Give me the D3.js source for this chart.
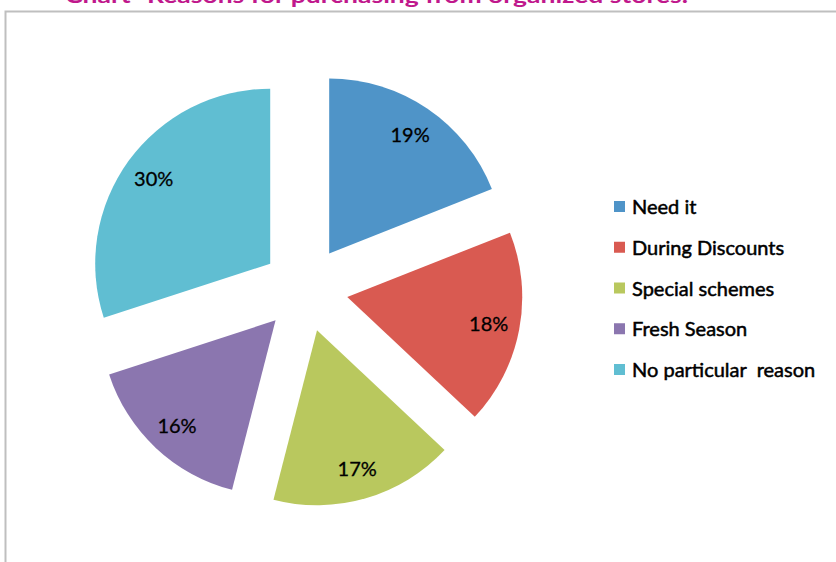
<!DOCTYPE html>
<html>
<head>
<meta charset="utf-8">
<script src="https://cdn.jsdelivr.net/npm/d3@7"></script>
<style>
  html, body { margin: 0; padding: 0; background: #fff; }
  svg { display: block; }
  text { font-family: Lato, "Open Sans", sans-serif; }
</style>
</head>
<body>
<svg id="chart" width="836" height="562"></svg>
<script>
// Survey: reasons for purchasing from organized stores (percent of respondents)
const categories = ["Need it", "During Discounts", "Special schemes", "Fresh Season", "No particular  reason"];
const values = [19, 18, 17, 16, 30];
const colors = ["#4F94C8", "#D95A51", "#B9C85E", "#8B76AF", "#60BED2"];
const title = "Chart- Reasons for purchasing from organized stores.";

const svg = d3.select("#chart");

// frame around the plot area
svg.append("rect")
  .attr("x", 5.5).attr("y", 11.5)
  .attr("width", 860).attr("height", 600)
  .attr("fill", "none")
  .attr("stroke", "#bfbfbf")
  .attr("stroke-width", 2);

// title (sits above the frame)
svg.append("text")
  .attr("x", 65).attr("y", 3)
  .attr("font-size", 21)
  .attr("font-weight", "bold")
  .attr("fill", "#C0188C")
  .attr("textLength", 623)
  .attr("lengthAdjust", "spacingAndGlyphs")
  .text(title);

const cx = 305, cy = 289, radius = 175, explode = 43, labelR = 144;

const pie = d3.pie().sort(null).value(d => d).startAngle(0).endAngle(2 * Math.PI);
const arcs = pie(values);
const arc = d3.arc().innerRadius(0).outerRadius(radius);
const labelArc = d3.arc().innerRadius(labelR).outerRadius(labelR);

const g = svg.append("g").attr("transform", `translate(${cx},${cy})`);

const slices = g.selectAll("g.slice")
  .data(arcs)
  .join("g")
  .attr("class", "slice")
  .attr("transform", d => {
    const a = (d.startAngle + d.endAngle) / 2;
    return `translate(${explode * Math.sin(a)},${-explode * Math.cos(a)})`;
  });

slices.append("path")
  .attr("d", arc)
  .attr("fill", (d, i) => colors[i]);

slices.append("text")
  .attr("transform", d => `translate(${labelArc.centroid(d)})`)
  .attr("text-anchor", "middle")
  .attr("dy", "0.36em")
  .attr("font-size", 20)
  .attr("fill", "#000")
  .attr("stroke", "#000")
  .attr("stroke-width", 0.3)
  .text(d => d.data + "%");

// legend
const legendY = d3.scalePoint().domain(categories).range([207, 370]);
const legend = svg.append("g");
const items = legend.selectAll("g")
  .data(categories)
  .join("g")
  .attr("transform", d => `translate(614,${legendY(d)})`);

items.append("rect")
  .attr("x", 0).attr("y", -6)
  .attr("width", 11).attr("height", 11)
  .attr("fill", (d, i) => colors[i]);

items.append("text")
  .attr("x", 18).attr("y", 0)
  .attr("dy", "0.36em")
  .attr("font-size", 20)
  .attr("fill", "#000")
  .attr("stroke", "#000")
  .attr("stroke-width", 0.5)
  .style("white-space", "pre")
  .text(d => d);
</script>
</body>
</html>
